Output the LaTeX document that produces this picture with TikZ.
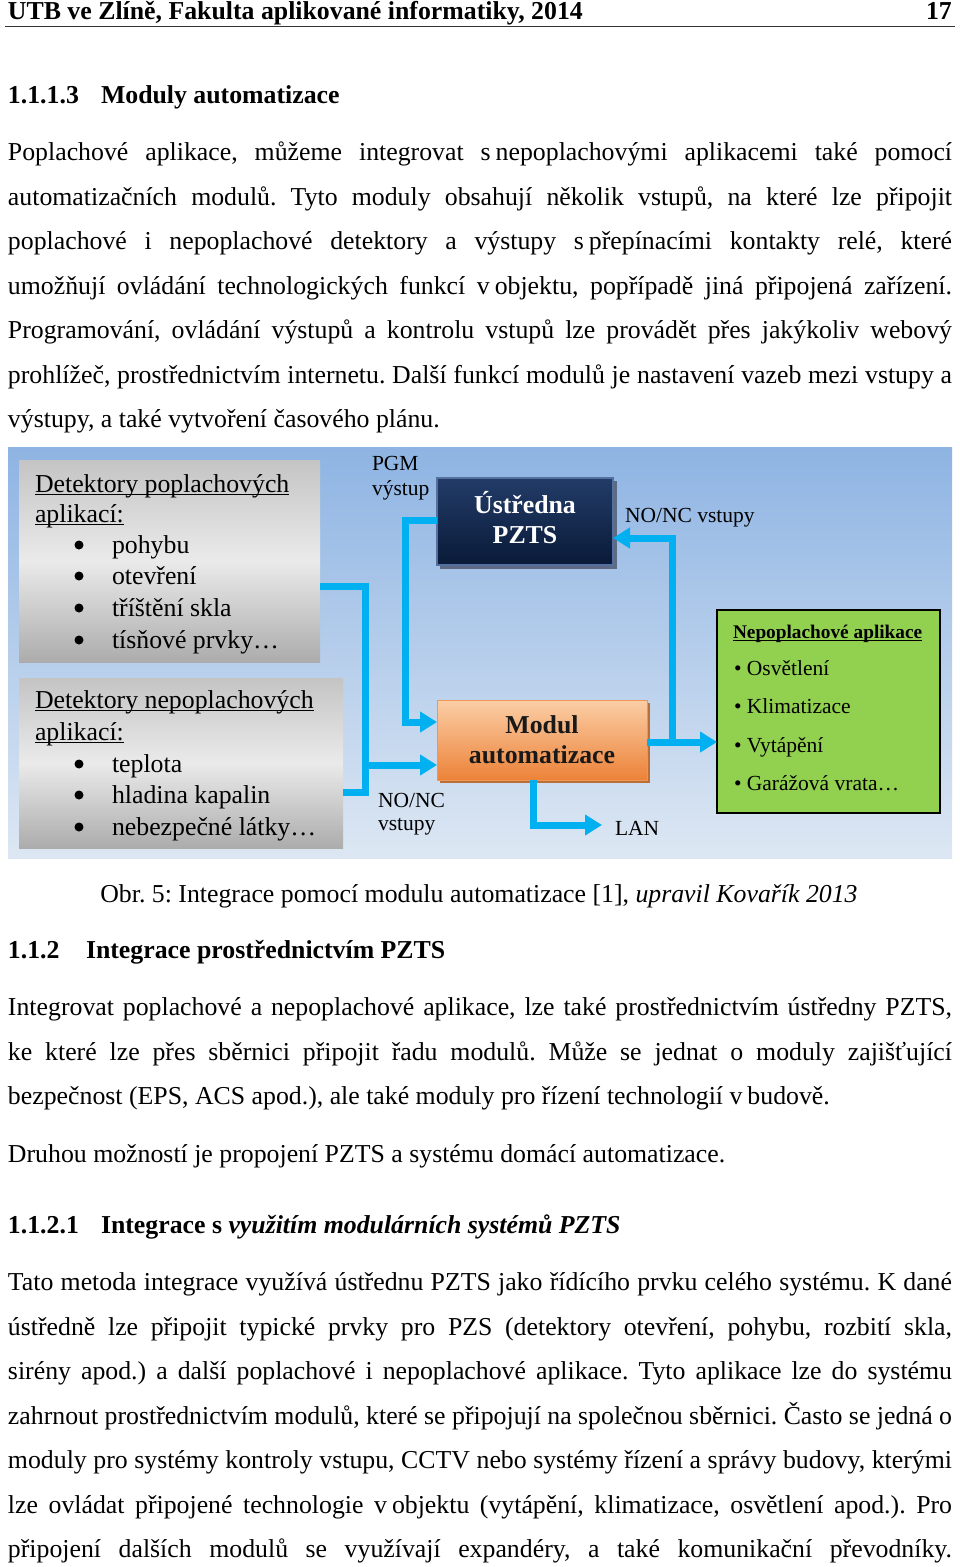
\documentclass[tikz,border=0pt]{standalone}
\usepackage{fontspec}
\setmainfont{Liberation Serif}
\usetikzlibrary{arrows.meta,calc}
\frenchspacing
\definecolor{cyanline}{RGB}{0,176,240}
\definecolor{bgtop}{RGB}{142,180,227}
\definecolor{bgbot}{RGB}{221,231,243}
\definecolor{gtop}{RGB}{196,196,196}
\definecolor{gmid}{RGB}{234,234,234}
\definecolor{gbot}{RGB}{172,172,172}
\definecolor{ntop}{RGB}{34,60,104}
\definecolor{nbot}{RGB}{10,26,56}
\definecolor{nborder}{RGB}{84,112,160}
\definecolor{nshadow}{RGB}{92,106,132}
\definecolor{otop}{RGB}{251,206,166}
\definecolor{omid}{RGB}{248,160,88}
\definecolor{obot}{RGB}{236,130,56}
\definecolor{oborder}{RGB}{236,150,90}
\definecolor{oshadow}{RGB}{186,110,56}
\definecolor{greenbox}{RGB}{146,208,80}
\newcommand\bodyf{\fontsize{25.8pt}{30pt}\selectfont}
\newcommand\smallf{\fontsize{21.5pt}{26pt}\selectfont}
\newcommand\tinyf{\fontsize{19.3pt}{23pt}\selectfont}
\newcommand\jline[1]{\makebox[944pt][s]{#1}}
\newcommand\myul[1]{\setbox0\hbox{#1}\rlap{\rule[-3pt]{\wd0}{1.2pt}}\box0}
\newcommand\tie{\hspace{5pt}}
\begin{document}
\begin{tikzpicture}[x=1pt,y=-1pt,
  txt/.style={inner sep=0pt, outer sep=0pt, anchor=base west, font=\bodyf},
  ctxt/.style={inner sep=0pt, outer sep=0pt, anchor=base, font=\bodyf},
  stxt/.style={inner sep=0pt, outer sep=0pt, anchor=base west, font=\smallf},
  gtxt/.style={inner sep=0pt, outer sep=0pt, anchor=base west, font=\smallf},
  bul/.style={circle, fill=black, inner sep=0pt, minimum size=9pt},
  boxn/.style={inner sep=0pt, outer sep=0pt, anchor=north west, rectangle},
  graybox/.style={boxn, top color=gtop, bottom color=gbot, middle color=gmid},
  conn/.style={draw=cyanline, line width=7pt, line join=miter},
  arr/.style={conn, -{Triangle[width=20pt,length=17pt]}}]
\useasboundingbox (0,0) rectangle (960,1567);
\fill[white] (0,0) rectangle (960,1567);

% ---------- header ----------
\node[txt, font=\bodyf\bfseries] (hdr) at (8,19.5) {UTB ve Zlíně, Fakulta aplikované informatiky, 2014};
\node[inner sep=0pt, anchor=base east, font=\bodyf\bfseries] (pgno) at (952,19.5) {17};
\draw[line width=1.3pt, black!80] (5,26.5) -- (955,26.5);

% ---------- heading 1.1.1.3 ----------
\node[txt, font=\bodyf\bfseries] (h1num) at (8,103.5) {1.1.1.3};
\node[txt, font=\bodyf\bfseries] (h1) at (101,103.5) {Moduly automatizace};

% ---------- paragraph 1 ----------
\node[txt] (p1a) at (8,160.5) {\jline{Poplachové aplikace, můžeme integrovat s\tie nepoplachovými aplikacemi také pomocí}};
\node[txt] (p1b) at (8,205) {\jline{automatizačních modulů. Tyto moduly obsahují několik vstupů, na které lze připojit}};
\node[txt] (p1c) at (8,249.5) {\jline{poplachové i nepoplachové detektory a výstupy s\tie přepínacími kontakty relé, které}};
\node[txt] (p1d) at (8,294) {\jline{umožňují ovládání technologických funkcí v\tie objektu, popřípadě jiná připojená zařízení.}};
\node[txt] (p1e) at (8,338.5) {\jline{Programování, ovládání výstupů a kontrolu vstupů lze provádět přes jakýkoliv webový}};
\node[txt] (p1f) at (8,383) {\jline{prohlížeč, prostřednictvím internetu. Další funkcí modulů je nastavení vazeb mezi vstupy a}};
\node[txt] (p1g) at (8,427.5) {výstupy, a také vytvoření časového plánu.};

% ---------- diagram ----------
\node[boxn, top color=bgtop, bottom color=bgbot, minimum width=944pt, minimum height=411pt] (bg) at (8,447) {};

\node[graybox, minimum width=301pt, minimum height=202pt] (det1) at (19,460) {};
\node[graybox, minimum width=324pt, minimum height=170pt] (det2) at (19,678) {};

% shadows
\fill[nshadow] (440,481) rectangle (617,569);
\fill[oshadow] (440,703) rectangle (650,783);

\node[boxn, top color=ntop, bottom color=nbot, draw=nborder, line width=1.5pt, minimum width=176pt, minimum height=87pt] (ustr) at (437,478) {};
\node[boxn, top color=otop, middle color=omid, bottom color=obot, draw=oborder, line width=1pt, minimum width=210pt, minimum height=80pt] (modul) at (437,700) {};
\node[boxn, fill=greenbox, draw=black, line width=2pt, minimum width=223pt, minimum height=203pt] (green) at (717,610) {};

% det1 text
\node[txt] (d1t1) at (35,492) {\myul{Detektory poplachových}};
\node[txt] (d1t2) at (35,522) {\myul{aplikací:}};
\node[bul] (d1b1) at (79,545) {};
\node[bul] (d1b2) at (79,576) {};
\node[bul] (d1b3) at (79,608) {};
\node[bul] (d1b4) at (79,640) {};
\node[txt] (d1i1) at (112,553) {pohybu};
\node[txt] (d1i2) at (112,584) {otevření};
\node[txt] (d1i3) at (112,616) {tříštění skla};
\node[txt] (d1i4) at (112,648) {tísňové prvky…};

% det2 text
\node[txt] (d2t1) at (35,708) {\myul{Detektory nepoplachových}};
\node[txt] (d2t2) at (35,740) {\myul{aplikací:}};
\node[bul] (d2b1) at (79,764) {};
\node[bul] (d2b2) at (79,795) {};
\node[bul] (d2b3) at (79,827) {};
\node[txt] (d2i1) at (112,772) {teplota};
\node[txt] (d2i2) at (112,803) {hladina kapalin};
\node[txt] (d2i3) at (112,835) {nebezpečné látky…};

% central boxes text
\node[ctxt, font=\bodyf\bfseries, text=white] (ust1) at (525,513) {Ústředna};
\node[ctxt, font=\bodyf\bfseries, text=white] (ust2) at (525,543) {PZTS};
\node[ctxt, font=\bodyf\bfseries, text=black!90] (mod1) at (542,733) {Modul};
\node[ctxt, font=\bodyf\bfseries, text=black!90] (mod2) at (542,763) {automatizace};

% labels
\node[stxt] (pgm1) at (372,470) {PGM};
\node[stxt] (pgm2) at (372,495) {výstup};
\node[stxt] (nonc1) at (625,522) {NO/NC vstupy};
\node[stxt] (nonc2) at (378,807) {NO/NC};
\node[stxt] (nonc3) at (378,830) {vstupy};

% green box text
\node[txt, font=\tinyf\bfseries] (gt) at (733,638) {\myul{Nepoplachové aplikace}};
\node[gtxt] (g1) at (734,675) {• Osvětlení};
\node[gtxt] (g2) at (734,713) {• Klimatizace};
\node[gtxt] (g3) at (734,752) {• Vytápění};
\node[gtxt] (g4) at (734,790) {• Garážová vrata…};

% connectors
\coordinate (ja) at (365,586);
\coordinate (jb) at (365,792);
\coordinate (jc) at (365,765);
\draw[conn] (det1.east |- ja) -- (ja) -- (jb) -- (det2.east |- jb);
\draw[arr] (jc) -- (modul.west |- jc);

\coordinate (pa) at (405,520);
\coordinate (pb) at (405,722);
\draw[arr] (ustr.west |- pa) -- (pa) -- (pb) -- (modul.west |- pb);

\coordinate (qa) at (672,742);
\coordinate (qb) at (672,538);
\draw[arr] (modul.east |- qa) -- (green.west |- qa);
\draw[arr] (qa) -- (qb) -- (ustr.east |- qb);

\coordinate (la) at (533,825);
\coordinate (lb) at (602,825);
\draw[arr] (modul.south -| la) -- (la) -- (lb);
\node[stxt] (lan) at (615,835) {LAN};

% ---------- caption ----------
\node[ctxt] (cap) at (479,902.5) {Obr. 5: Integrace pomocí modulu automatizace [1], \textit{upravil Kovařík 2013}};

% ---------- heading 1.1.2 ----------
\node[txt, font=\bodyf\bfseries] (h2num) at (8,958.5) {1.1.2};
\node[txt, font=\bodyf\bfseries] (h2) at (86,958.5) {Integrace prostřednictvím PZTS};

% ---------- paragraph 2 ----------
\node[txt] (p2a) at (8,1015.5) {\jline{Integrovat poplachové a nepoplachové aplikace, lze také prostřednictvím ústředny PZTS,}};
\node[txt] (p2b) at (8,1060) {\jline{ke které lze přes sběrnici připojit řadu modulů. Může se jednat o moduly zajišťující}};
\node[txt] (p2c) at (8,1104.5) {bezpečnost (EPS, ACS apod.), ale také moduly pro řízení technologií v\tie budově.};

% ---------- paragraph 3 ----------
\node[txt] (p3a) at (8,1162.5) {Druhou možností je propojení PZTS a systému domácí automatizace.};

% ---------- heading 1.1.2.1 ----------
\node[txt, font=\bodyf\bfseries] (h3num) at (8,1233.5) {1.1.2.1};
\node[txt, font=\bodyf\bfseries] (h3) at (101,1233.5) {Integrace s \textit{využitím modulárních systémů PZTS}};

% ---------- paragraph 4 ----------
\node[txt] (p4a) at (8,1290.5) {\jline{Tato metoda integrace využívá ústřednu PZTS jako řídícího prvku celého systému. K dané}};
\node[txt] (p4b) at (8,1335) {\jline{ústředně lze připojit typické prvky pro PZS (detektory otevření, pohybu, rozbití skla,}};
\node[txt] (p4c) at (8,1379.5) {\jline{sirény apod.) a další poplachové i nepoplachové aplikace. Tyto aplikace lze do systému}};
\node[txt] (p4d) at (8,1424) {\jline{zahrnout prostřednictvím modulů, které se připojují na společnou sběrnici. Často se jedná o}};
\node[txt] (p4e) at (8,1468.5) {\jline{moduly pro systémy kontroly vstupu, CCTV nebo systémy řízení a správy budovy, kterými}};
\node[txt] (p4f) at (8,1513) {\jline{lze ovládat připojené technologie v\tie objektu (vytápění, klimatizace, osvětlení apod.). Pro}};
\node[txt] (p4g) at (8,1557.5) {\jline{připojení dalších modulů se využívají expandéry, a také komunikační převodníky.}};
\end{tikzpicture}
\end{document}
